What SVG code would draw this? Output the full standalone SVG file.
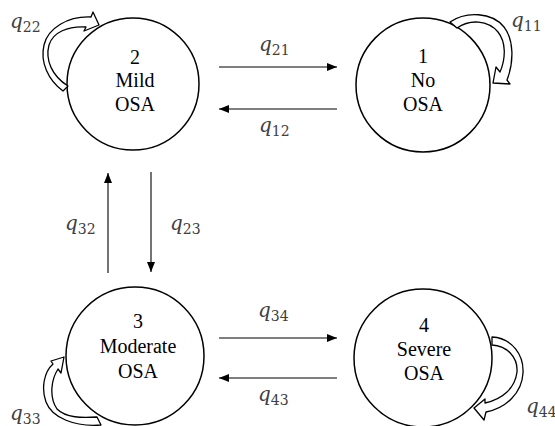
<svg xmlns="http://www.w3.org/2000/svg" width="555" height="426" viewBox="0 0 555 426">
  <defs>
    <style>
      .state { fill: #ffffff; stroke: #000000; stroke-width: 1.5; }
      .name { font-family: 'Liberation Serif', 'Times New Roman', 'DejaVu Serif', serif; font-size: 20px; fill: #000000; text-anchor: middle; }
      .edge { stroke: #000000; stroke-width: 1.1; fill: none; marker-end: url(#head); }
      .loop { fill: #ffffff; stroke: #000000; stroke-width: 1.3; stroke-linejoin: round; }
      .rate { font-family: 'DejaVu Serif', serif; fill: #404040; }
      .q { font-style: italic; font-size: 20px; }
      .sub { font-size: 14px; }
    </style>
    <marker id="head" markerUnits="userSpaceOnUse" markerWidth="11" markerHeight="9" refX="10" refY="4" orient="auto">
      <path d="M0,0 L10,4 L0,8 Z" fill="#000000"/>
    </marker>
  </defs>
  <rect width="555" height="426" fill="#ffffff"/>

  <!-- transitions between states -->
  <g id="connectors">
    <line class="edge" x1="219" y1="67" x2="337" y2="67"/>
    <line class="edge" x1="337" y1="109" x2="219" y2="109"/>
    <line class="edge" x1="108" y1="273" x2="108" y2="173"/>
    <line class="edge" x1="151" y1="172" x2="151" y2="272"/>
    <line class="edge" x1="219" y1="338" x2="337" y2="338"/>
    <line class="edge" x1="337" y1="378" x2="219" y2="378"/>
    <text class="rate" x="259" y="51"><tspan class="q">q</tspan><tspan class="sub" dy="4">21</tspan></text>
    <text class="rate" x="259" y="132"><tspan class="q">q</tspan><tspan class="sub" dy="4">12</tspan></text>
    <text class="rate" x="65" y="230"><tspan class="q">q</tspan><tspan class="sub" dy="4">32</tspan></text>
    <text class="rate" x="170" y="230"><tspan class="q">q</tspan><tspan class="sub" dy="4">23</tspan></text>
    <text class="rate" x="258" y="317"><tspan class="q">q</tspan><tspan class="sub" dy="4">34</tspan></text>
    <text class="rate" x="258" y="401"><tspan class="q">q</tspan><tspan class="sub" dy="4">43</tspan></text>
  </g>

  <g id="state-2">
    <circle class="state" cx="133" cy="84" r="66"/>
    <text class="name" x="135" y="64">2</text>
    <text class="name" x="135" y="87">Mild</text>
    <text class="name" x="135" y="111">OSA</text>
    <path class="loop" d="M63,91 C48,80 40,62 44,45 C48,28 68,16 91,17 L93,12 L99,25 L84,31 L86,27 C68,26 53,32 49,45 C45,60 52,76 68,86 Z"/>
    <text class="rate" x="10" y="28"><tspan class="q">q</tspan><tspan class="sub" dy="4">22</tspan></text>
  </g>

  <g id="state-1">
    <circle class="state" cx="423" cy="85" r="67"/>
    <text class="name" x="423" y="63">1</text>
    <text class="name" x="423" y="87">No</text>
    <text class="name" x="423" y="111">OSA</text>
    <path class="loop" d="M450,22 C466,11 492,12 504,27 C514,40 514,62 507,80 L510,84 L493,83 L496,67 L500,72 C506,58 506,42 498,32 C488,20 470,19 457,28 Z"/>
    <text class="rate" x="511" y="27"><tspan class="q">q</tspan><tspan class="sub" dy="4">11</tspan></text>
  </g>

  <g id="state-3">
    <circle class="state" cx="135" cy="356" r="69"/>
    <text class="name" x="138" y="328">3</text>
    <text class="name" x="138" y="353">Moderate</text>
    <text class="name" x="138" y="378">OSA</text>
    <path class="loop" d="M101,425 C75,427 52,418 46,402 C41,388 44,372 53,364 L51,361 L64,357 L61,373 L58,369 C51,380 49,397 57,409 C66,418 82,418 97,417 Z"/>
    <text class="rate" x="10" y="420"><tspan class="q">q</tspan><tspan class="sub" dy="4">33</tspan></text>
  </g>

  <g id="state-4">
    <circle class="state" cx="423" cy="358" r="69"/>
    <text class="name" x="424" y="332">4</text>
    <text class="name" x="424" y="356">Severe</text>
    <text class="name" x="424" y="380">OSA</text>
    <path class="loop" d="M492,337 C512,338 524,355 523,373 C522,393 506,408 486,412 L484,420 L474,408 L485,399 L485,403 C503,399 515,388 517,372 C518,357 507,346 492,345 Z"/>
    <text class="rate" x="526" y="413"><tspan class="q">q</tspan><tspan class="sub" dy="4">44</tspan></text>
  </g>
</svg>
